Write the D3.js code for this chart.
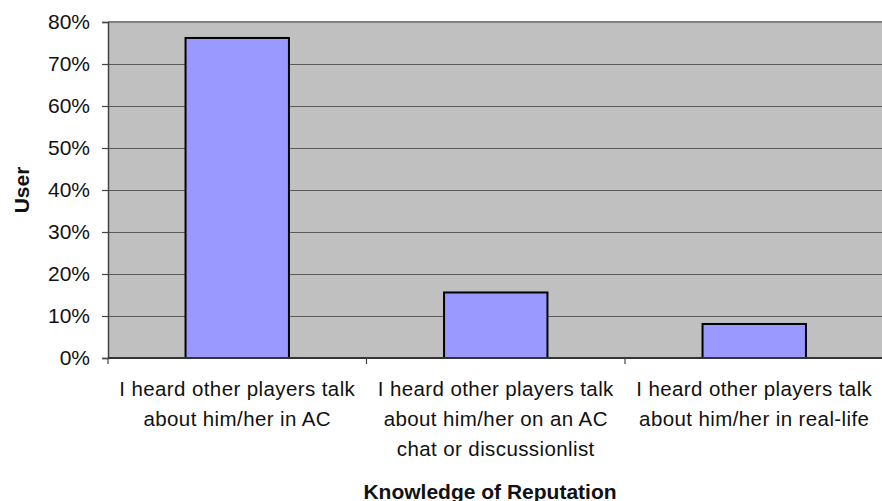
<!DOCTYPE html>
<html>
<head>
<meta charset="utf-8">
<script src="https://cdn.jsdelivr.net/npm/d3@7"></script>
<style>
  html, body { margin: 0; padding: 0; background: #ffffff; }
  svg { display: block; font-family: Arial, "Liberation Sans", sans-serif; }
</style>
</head>
<body>
<svg id="chart" width="882" height="501"></svg>
<script>
// Reputation knowledge survey: share of users per source
const categories = [
  ["I heard other players talk", "about him/her in AC"],
  ["I heard other players talk", "about him/her on an AC", "chat or discussionlist"],
  ["I heard other players talk", "about him/her in real-life"]
];
const values = [0.762, 0.156, 0.081];
const yTicks = [0, 0.1, 0.2, 0.3, 0.4, 0.5, 0.6, 0.7, 0.8];
const xTitle = "Knowledge of Reputation";
const yTitle = "User";

const svg = d3.select("#chart");
const plot = { left: 108, right: 883.5, top: 22, bottom: 358 };

const x = d3.scaleBand()
  .domain(d3.range(categories.length))
  .range([plot.left, plot.right])
  .paddingInner(0.6)
  .paddingOuter(0.3);
const step = (plot.right - plot.left) / categories.length;

const y = d3.scaleLinear().domain([0, 0.8]).range([plot.bottom, plot.top]);

// plot background
svg.append("rect")
  .attr("x", plot.left).attr("y", plot.top)
  .attr("width", plot.right - plot.left).attr("height", plot.bottom - plot.top)
  .attr("fill", "#c0c0c0");

// horizontal gridlines
svg.append("g").selectAll("line")
  .data(yTicks.filter(t => t > 0 && t < 0.8))
  .join("line")
  .attr("x1", plot.left).attr("x2", plot.right)
  .attr("y1", d => Math.round(y(d)) + 0.5).attr("y2", d => Math.round(y(d)) + 0.5)
  .attr("stroke", "#5a5a5a").attr("stroke-width", 1.2);

// top border
svg.append("line")
  .attr("x1", plot.left).attr("x2", plot.right)
  .attr("y1", plot.top).attr("y2", plot.top)
  .attr("stroke", "#808080").attr("stroke-width", 2);

// bars
svg.append("g").selectAll("rect")
  .data(values)
  .join("rect")
  .attr("x", (d, i) => x(i))
  .attr("y", d => y(d))
  .attr("width", x.bandwidth())
  .attr("height", d => plot.bottom - y(d))
  .attr("fill", "#9999ff")
  .attr("stroke", "#000000")
  .attr("stroke-width", 2);

// y axis
const yAxis = d3.axisLeft(y)
  .tickValues(yTicks)
  .tickFormat(d3.format(".0%"))
  .tickSize(6)
  .tickPadding(12);
const gy = svg.append("g")
  .attr("transform", `translate(${plot.left},0)`)
  .call(yAxis);
gy.select(".domain").attr("stroke", "#444").attr("stroke-width", 1.5);
gy.selectAll(".tick line").attr("stroke", "#444").attr("stroke-width", 1.2);
gy.selectAll(".tick text")
  .attr("font-size", "21px")
  .attr("fill", "#111")
  .attr("font-family", "Arial, 'Liberation Sans', sans-serif");

// x axis line and category boundary ticks
svg.append("line")
  .attr("x1", plot.left).attr("x2", plot.right)
  .attr("y1", plot.bottom).attr("y2", plot.bottom)
  .attr("stroke", "#333").attr("stroke-width", 2);
svg.append("g").selectAll("line")
  .data(d3.range(categories.length + 1))
  .join("line")
  .attr("x1", i => plot.left + i * step).attr("x2", i => plot.left + i * step)
  .attr("y1", plot.bottom).attr("y2", plot.bottom + 6)
  .attr("stroke", "#444").attr("stroke-width", 1.2);

// category labels
const lab = svg.append("g").selectAll("text")
  .data(categories)
  .join("text")
  .attr("text-anchor", "middle")
  .attr("font-size", "20.5px")
  .attr("letter-spacing", "0.4px")
  .attr("fill", "#111");
lab.selectAll("tspan")
  .data((d, i) => d.map(t => ({ t, i })))
  .join("tspan")
  .attr("x", d => x(d.i) + x.bandwidth() / 2)
  .attr("y", (d, j) => 395.5 + j * 30)
  .text(d => d.t);

// axis titles
svg.append("text")
  .attr("x", 490).attr("y", 498.5)
  .attr("text-anchor", "middle")
  .attr("font-size", "21px")
  .attr("font-weight", "bold")
  .attr("fill", "#111")
  .text(xTitle);

svg.append("text")
  .attr("transform", `translate(28.5,${(plot.top + plot.bottom) / 2}) rotate(-90)`)
  .attr("text-anchor", "middle")
  .attr("font-size", "21px")
  .attr("font-weight", "bold")
  .attr("fill", "#111")
  .text(yTitle);
</script>
</body>
</html>
